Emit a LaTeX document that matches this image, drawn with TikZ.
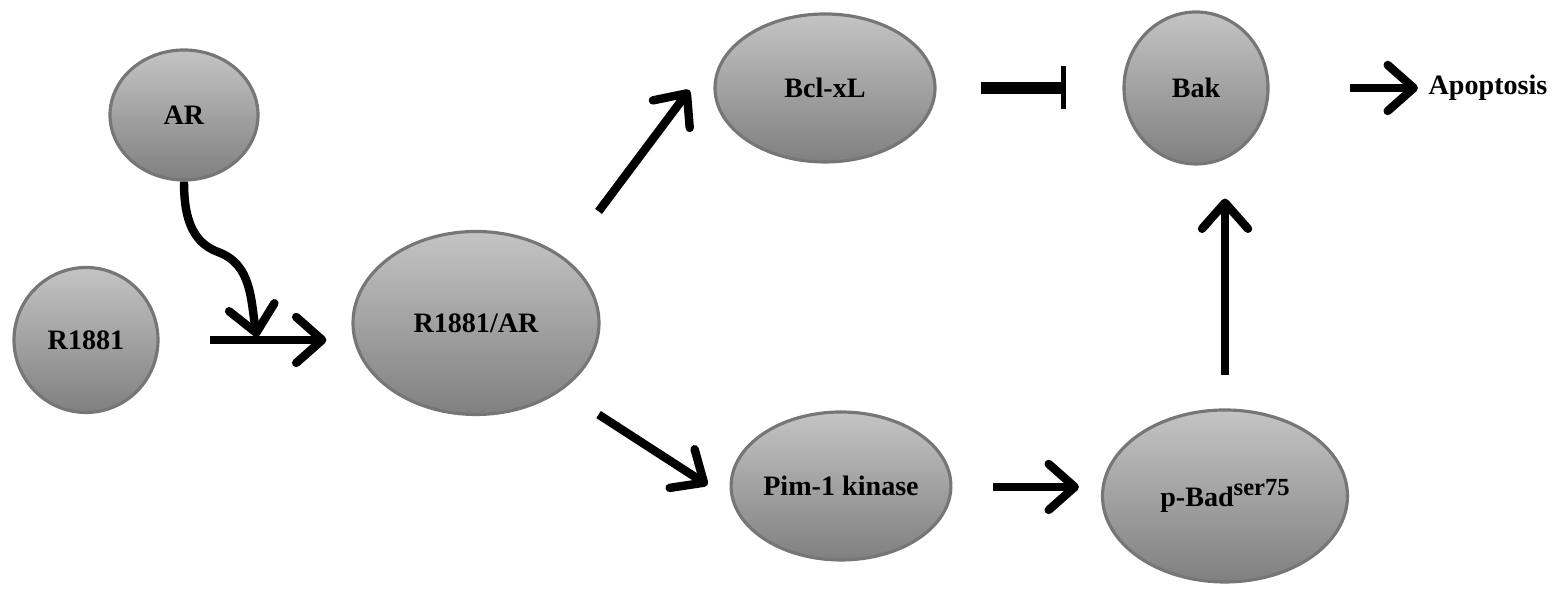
\documentclass[tikz,border=0pt]{standalone}
\usepackage{fontspec}
\setmainfont{Liberation Serif}
\usetikzlibrary{shapes.geometric,arrows.meta,positioning}
\definecolor{cellTop}{RGB}{196,196,196}
\definecolor{cellBot}{RGB}{128,128,128}
\definecolor{cellRim}{RGB}{118,118,118}

\begin{document}
\begin{tikzpicture}[
	cell/.style={ellipse,draw=cellRim,line width=0.9pt,top color=cellTop,bottom color=cellBot,inner sep=0pt,font=\fontsize{8}{10}\selectfont\bfseries},
	act/.style={line width=2.4pt,-{Straight Barb[length=2.6mm,width=4.6mm,round]}},
	inh/.style={line width=3.4pt,-{Bar[width=4.3mm,line width=1.5pt]}}]
	\useasboundingbox (0,0) rectangle (15.59,5.93);
	\node[cell,minimum width=1.48cm,minimum height=1.30cm] (AR) at (1.84,4.78) {AR};
	\node[cell,minimum width=1.44cm,minimum height=1.45cm] (R1881) at (0.86,2.53) {R1881};
	\node[cell,minimum width=2.46cm,minimum height=1.83cm] (R1881AR) at (4.76,2.70) {R1881/AR};
	\node[cell,minimum width=2.20cm,minimum height=1.48cm] (Bclxl) at (8.25,5.05) {Bcl-xL};
	\node[cell,minimum width=1.44cm,minimum height=1.52cm] (Bak) at (11.96,5.05) {Bak};
	\node[cell,minimum width=2.03cm,minimum height=1.48cm] (Pim) at (8.41,1.07) {Pim-1 kinase};
	\node[cell,minimum width=2.45cm,minimum height=1.72cm] (pBad) at (12.25,0.97) {p-Bad\raisebox{0.42em}{\fontsize{7}{8}\selectfont ser75}};
	\node[inner sep=0pt,font=\fontsize{8}{10}\selectfont\bfseries] (Apop) at (14.88,5.05) {Apoptosis};
	\coordinate (join) at (2.57,2.56);
	\draw[act,shorten <=5mm,shorten >=2.5mm] (R1881.east) -- (R1881.east -| R1881AR.west);
	\draw[act] (AR.south) to[out=-90,in=160] (2.18,3.41) to[out=-20,in=100] (join);
	\draw[act] ([shift={(0.48,0.37)}]R1881AR.45) -- ([shift={(-0.24,-0.02)}]Bclxl.west);
	\draw[act] ([shift={(0.48,-0.17)}]R1881AR.-45) -- ([shift={(-0.22,0.01)}]Pim.west);
	\draw[act,shorten <=4.1mm,shorten >=2.2mm] ([yshift=-0.01cm]Pim.east) -- ([yshift=-0.01cm]Pim.east -| pBad.west);
	\draw[act,shorten <=3.3mm,shorten >=3.3mm] (pBad.north) -- (pBad.north |- Bak.south);
	\draw[inh,shorten <=4.4mm,shorten >=5.6mm] (Bclxl.east) -- (Bak.west);
	\draw[act,shorten <=8mm,shorten >=1mm] (Bak.east) -- (Apop.west);
\end{tikzpicture}
\end{document}
